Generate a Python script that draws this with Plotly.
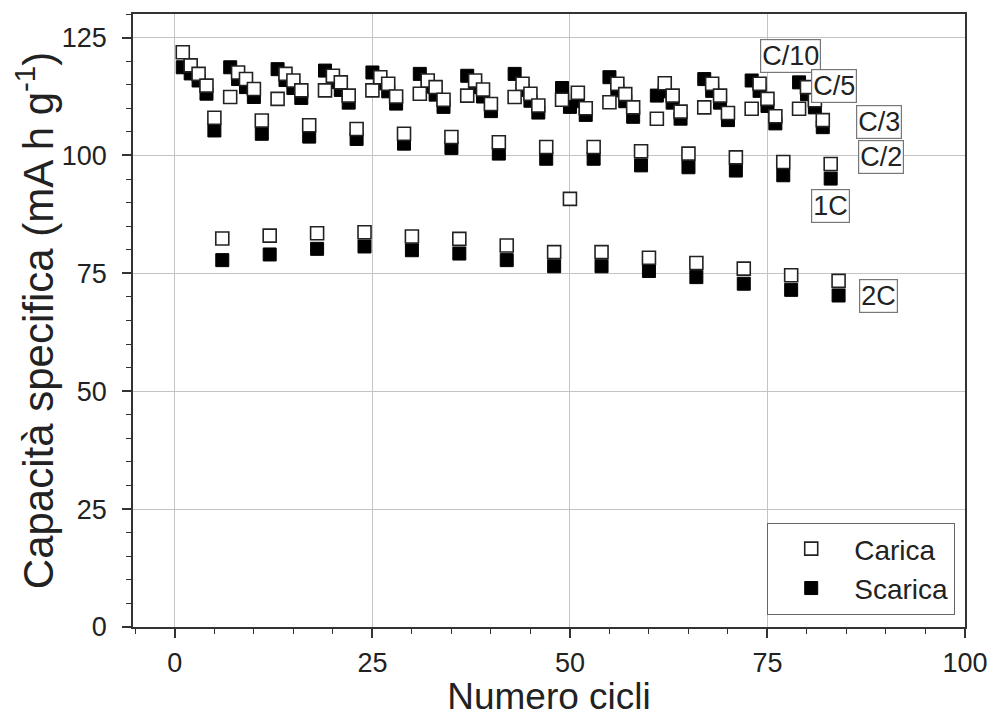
import plotly.graph_objects as go

cicli = list(range(1, 85))

carica = [
    121.9, 119.1, 117.3, 114.8, 108.0, 82.4,
    112.4, 117.6, 116.2, 114.1, 107.4, 83.0,
    112.0, 117.3, 115.9, 113.8, 106.4, 83.5,
    113.8, 116.9, 115.5, 112.7, 105.6, 83.7,
    113.8, 116.6, 115.2, 112.5, 104.6, 82.8,
    113.1, 115.9, 114.5, 111.8, 103.9, 82.3,
    112.7, 115.9, 114.0, 110.9, 102.8, 80.9,
    112.4, 115.2, 113.1, 110.6, 101.8, 79.5,
    111.8, 90.8, 113.3, 110.0, 101.8, 79.5,
    111.3, 115.2, 113.0, 110.2, 100.9, 78.3,
    107.8, 115.3, 112.7, 109.3, 100.4, 77.2,
    110.2, 115.2, 112.7, 109.0, 99.6, 76.0,
    109.9, 115.2, 112.0, 108.3, 98.6, 74.6,
    109.9, 114.5, 111.7, 107.5, 98.2, 73.4,
]

scarica = [
    118.7, 117.4, 115.9, 113.1, 105.3, 77.8,
    118.7, 116.2, 114.5, 112.4, 104.6, 79.0,
    118.3, 116.0, 114.3, 112.2, 104.0, 80.2,
    118.0, 115.6, 113.9, 111.2, 103.5, 80.7,
    117.6, 115.3, 113.6, 111.0, 102.5, 79.9,
    117.3, 114.6, 112.9, 110.3, 101.6, 79.2,
    116.9, 114.5, 112.5, 109.4, 100.4, 77.8,
    117.3, 113.9, 111.6, 109.1, 99.3, 76.5,
    114.3, 110.3, 111.5, 108.6, 99.3, 76.5,
    116.6, 113.8, 111.5, 108.2, 97.9, 75.5,
    112.7, 113.6, 111.2, 107.8, 97.5, 74.2,
    116.2, 113.7, 111.2, 107.5, 96.8, 72.8,
    115.9, 113.7, 110.5, 106.8, 95.8, 71.5,
    115.5, 113.0, 110.2, 106.0, 95.1, 70.3,
]

rate_labels = ["C/10", "C/5", "C/3", "C/2", "1C", "2C"]
x_ticks = [0, 25, 50, 75, 100]
y_ticks = [0, 25, 50, 75, 100, 125]

FONT = "Liberation Sans, Arial, sans-serif"
INK = "#222222"

fig = go.Figure()
fig.add_trace(go.Scatter(
    x=cicli, y=scarica, mode="markers", name="Scarica", legendrank=2,
    marker=dict(symbol="square", size=13, color="#000000",
                line=dict(color="#000000", width=1)),
))
fig.add_trace(go.Scatter(
    x=cicli, y=carica, mode="markers", name="Carica", legendrank=1,
    marker=dict(symbol="square", size=13, color="#ffffff",
                line=dict(color="#222222", width=1.6)),
))

label_pos = [(77.9, 121.2), (83.4, 114.8), (89.1, 107.2),
             (89.4, 99.6), (83.0, 89.2), (89.1, 70.1)]
for txt, (lx, ly) in zip(rate_labels, label_pos):
    fig.add_annotation(x=lx, y=ly, text=txt, showarrow=False,
                       font=dict(family=FONT, size=27, color=INK),
                       bgcolor="#ffffff", bordercolor="#777777",
                       borderwidth=1.2, borderpad=1)

axis_common = dict(
    showline=True, linecolor="#333333", linewidth=1.5, mirror=True,
    showgrid=True, gridcolor="#c4c4c4", gridwidth=1,
    zeroline=False, ticks="outside", ticklen=9, tickwidth=1.5,
    tickcolor="#333333", automargin=False,
    tickfont=dict(family=FONT, size=27, color=INK),
)

fig.update_xaxes(
    range=[-5.3, 100], tickvals=x_ticks, ticklabelstandoff=2,
    title=dict(text="Numero cicli", font=dict(family=FONT, size=37, color=INK), standoff=0),
    minor=dict(dtick=5, tick0=0, ticks="outside", ticklen=5, tickwidth=1.3,
               tickcolor="#333333", showgrid=False),
    **axis_common,
)
fig.update_yaxes(
    range=[0, 130], tickvals=y_ticks, ticklabelstandoff=10,
    title=dict(text="Capacità specifica (mA h g<sup>-1</sup>)",
               font=dict(family=FONT, size=42, color=INK), standoff=6),
    minor=dict(dtick=5, tick0=0, ticks="outside", ticklen=5, tickwidth=1.3,
               tickcolor="#333333", showgrid=False),
    **axis_common,
)

# the page body adds an 8 px offset, so the figure is 8 px smaller each way
fig.update_layout(
    width=988, height=709,
    margin=dict(l=125, r=31, t=6, b=90),
    paper_bgcolor="#ffffff", plot_bgcolor="#ffffff",
    font=dict(family=FONT, color=INK),
    legend=dict(
        x=0.988, y=0.02, xanchor="right", yanchor="bottom",
        bgcolor="#ffffff", bordercolor="#666666", borderwidth=1.2,
        font=dict(family=FONT, size=28, color=INK),
        itemwidth=76, tracegroupgap=0,
    ),
    showlegend=True,
)

fig.write_html("out.html")
